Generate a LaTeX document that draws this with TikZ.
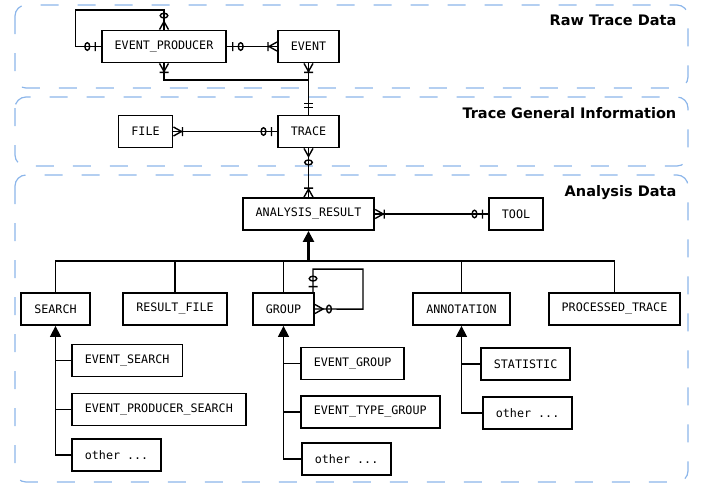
\documentclass[tikz,border=0pt]{standalone}
\usepackage{fontspec}
\setsansfont{DejaVu Sans}
\setmonofont{DejaVu Sans Mono}
\usepackage{xcolor}
\usetikzlibrary{arrows.meta, positioning}

\definecolor{zoneblue}{RGB}{140,182,234}

\pgfdeclarearrow{
  name = zeroone,
  setup code = {\pgfarrowssettipend{0pt}\pgfarrowssetlineend{0pt}\pgfarrowssetbackend{-17pt}},
  drawing code = {
    \pgfpathmoveto{\pgfpoint{-5.5pt}{-4.5pt}}
    \pgfpathlineto{\pgfpoint{-5.5pt}{4.5pt}}
    \pgfpathellipse{\pgfpoint{-13.5pt}{0pt}}{\pgfpoint{2.4pt}{0pt}}{\pgfpoint{0pt}{3.8pt}}
    \pgfusepathqstroke
  }
}
\pgfdeclarearrow{
  name = oneone,
  setup code = {\pgfarrowssettipend{0pt}\pgfarrowssetlineend{0pt}\pgfarrowssetbackend{-12pt}},
  drawing code = {
    \pgfpathmoveto{\pgfpoint{-7pt}{-4.5pt}}
    \pgfpathlineto{\pgfpoint{-7pt}{4.5pt}}
    \pgfpathmoveto{\pgfpoint{-11pt}{-4.5pt}}
    \pgfpathlineto{\pgfpoint{-11pt}{4.5pt}}
    \pgfusepathqstroke
  }
}
\pgfdeclarearrow{
  name = onemany,
  setup code = {\pgfarrowssettipend{0pt}\pgfarrowssetlineend{0pt}\pgfarrowssetbackend{-10pt}},
  drawing code = {
    \pgfpathmoveto{\pgfpoint{0pt}{4.5pt}}
    \pgfpathlineto{\pgfpoint{-8pt}{0pt}}
    \pgfpathlineto{\pgfpoint{0pt}{-4.5pt}}
    \pgfpathmoveto{\pgfpoint{-9pt}{-4.5pt}}
    \pgfpathlineto{\pgfpoint{-9pt}{4.5pt}}
    \pgfusepathqstroke
  }
}
\pgfdeclarearrow{
  name = zeromany,
  setup code = {\pgfarrowssettipend{0pt}\pgfarrowssetlineend{0pt}\pgfarrowssetbackend{-17pt}},
  drawing code = {
    \pgfpathmoveto{\pgfpoint{0pt}{4.5pt}}
    \pgfpathlineto{\pgfpoint{-8pt}{0pt}}
    \pgfpathlineto{\pgfpoint{0pt}{-4.5pt}}
    \pgfpathellipse{\pgfpoint{-14pt}{0pt}}{\pgfpoint{2.4pt}{0pt}}{\pgfpoint{0pt}{3.8pt}}
    \pgfusepathqstroke
  }
}

\begin{document}
\begin{tikzpicture}[x=1pt,y=-1pt,line width=1.4pt]
  \tikzstyle{zone}=[draw=zoneblue,line width=1.2pt,dash pattern=on 18pt off 19pt,rounded corners=11pt]
  \tikzstyle{zonetitle}=[font=\sffamily\bfseries\fontsize{14.5}{17}\selectfont,anchor=base east,inner sep=0pt]
  \tikzstyle{entity}=[draw,line width=1.8pt,font=\ttfamily\fontsize{11.7}{14}\selectfont,inner xsep=13pt,inner ysep=0pt,minimum height=32pt]
  \tikzstyle{isa}=[{Triangle[width=11pt,length=11pt]}-]

  \useasboundingbox (0,0) rectangle (702,485);

  \draw[zone] (15,5) rectangle (688,88);
  \draw[zone] (15,97) rectangle (688,166);
  \draw[zone] (15,175) rectangle (688,482);
  \node[zonetitle](raw_title) at (677,25){Raw Trace Data};
  \node[zonetitle](gen_title) at (677,118){Trace General Information};
  \node[zonetitle](ana_title) at (677,196){Analysis Data};

  \node[entity](ev_prod) at (164,46.5){EVENT\_PRODUCER};
  \node[entity](event) at (308.5,46.5){EVENT};
  \node[entity](file) at (145.5,131.5){FILE};
  \node[entity](trace) at (308.5,131.5){TRACE};
  \node[entity](result) at (308.5,214){ANALYSIS\_RESULT};
  \node[entity](tool) at (516,214){TOOL};

  \node[entity](search) at (55.5,309){SEARCH};
  \node[entity](res_file) at (175,309){RESULT\_FILE};
  \node[entity](group) at (283.5,309){GROUP};
  \node[entity](annot) at (461.5,309){ANNOTATION};
  \node[entity](proc_trace) at (614.5,309){PROCESSED\_TRACE};

  \node[entity,anchor=west](ev_search) at (71,360.5){EVENT\_SEARCH};
  \node[entity,anchor=west](evp_search) at (71,409.5){EVENT\_PRODUCER\_SEARCH};
  \node[entity,anchor=west](search_other) at (71,455){other ...};
  \node[entity,anchor=west](ev_group) at (300,363.5){EVENT\_GROUP};
  \node[entity,anchor=west](evt_group) at (300,412){EVENT\_TYPE\_GROUP};
  \node[entity,anchor=west](group_other) at (301,459){other ...};
  \node[entity,anchor=west](stat) at (480,364){STATISTIC};
  \node[entity,anchor=west](annot_other) at (482,413){other ...};

  \coordinate (merge) at (308.5,80);
  \coordinate (split) at (308.5,261);

  \draw[zeroone-zeromany] (ev_prod.west) -- ++(-25,0) -- ++(0,-36.5) -| (ev_prod.north);
  \draw[onemany-] (ev_prod.south) |- (merge);
  \draw[zeroone-zeromany] ([xshift=-2pt]group.north east) -- ++(0,-23) -| ++(50,40) -- (group.east);

  \path
  (ev_prod) edge[zeroone-onemany] (event)
  (event)   edge[onemany-oneone]  (trace)
  (file)    edge[onemany-zeroone] (trace)
  (trace)   edge[zeromany-onemany] (result)
  (result)  edge[onemany-zeroone] (tool);

  \draw[isa,line width=2.3pt] (result) -- (split);
  \draw (search.north) |- (split) -| (proc_trace.north);
  \draw (res_file.north) -- (res_file.north |- split);
  \draw (group.north) -- (group.north |- split);
  \draw (annot.north) -- (annot.north |- split);

  \draw[isa] (search.south) |- (search_other.west);
  \draw (ev_search.west) -- (ev_search.west -| search.south);
  \draw (evp_search.west) -- (evp_search.west -| search.south);
  \draw[isa] (group.south) |- (group_other.west);
  \draw (ev_group.west) -- (ev_group.west -| group.south);
  \draw (evt_group.west) -- (evt_group.west -| group.south);
  \draw[isa] (annot.south) |- (annot_other.west);
  \draw (stat.west) -- (stat.west -| annot.south);
\end{tikzpicture}
\end{document}
